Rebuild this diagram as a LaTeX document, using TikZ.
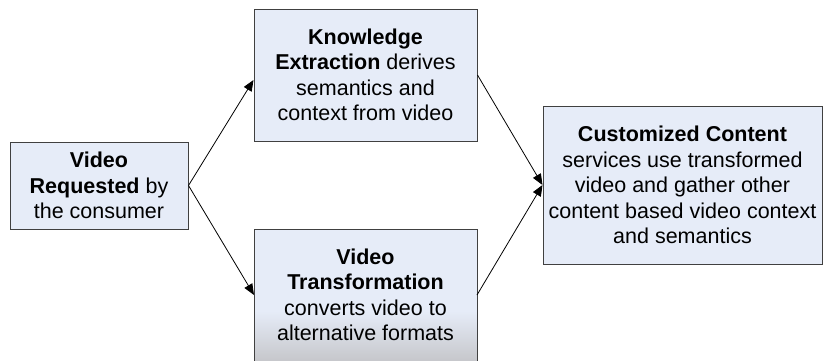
\documentclass[tikz,border=0pt]{standalone}
\usepackage{fontspec}
\setmainfont{Liberation Sans}
\usetikzlibrary{arrows.meta}
\definecolor{boxfill}{RGB}{230,236,248}
\definecolor{boxline}{RGB}{64,64,64}
\definecolor{boxgray}{RGB}{198,199,203}
\begin{document}
\begin{tikzpicture}[x=1pt,y=-1pt,
  stepbox/.style={draw=boxline, line width=1pt, fill=boxfill, rectangle, inner sep=0pt,
    align=center, font=\fontsize{21.5}{25.5}\selectfont},
  conn/.style={-{Triangle[length=11pt,width=9pt]}, line width=0.8pt, black}]
\useasboundingbox (0,0) rectangle (823,360);
\clip (0,0) rectangle (823,360);
\node[stepbox, minimum width=178pt, minimum height=87pt] (req) at (99,185.5)
  {\textbf{Video}\\\textbf{Requested} by\\the consumer};
\node[stepbox, minimum width=223pt, minimum height=132pt] (ke) at (365.5,75)
  {\textbf{Knowledge}\\\textbf{Extraction} derives\\semantics and\\context from video};
\node[stepbox, draw=none, outer sep=0pt, minimum width=223pt, minimum height=132pt] (vt) at (365.5,295) {};
\shade[top color=boxfill, bottom color=boxgray]
  ([yshift=50pt]vt.south west) rectangle (vt.south east);
\draw[boxline, line width=1pt] (vt.south west) rectangle (vt.north east);
\node[align=center, inner sep=0pt, font=\fontsize{21.5}{25.5}\selectfont] (vtt) at (vt.center)
  {\textbf{Video}\\\textbf{Transformation}\\converts video to\\alternative formats};
\node[stepbox, minimum width=279pt, minimum height=158pt] (cc) at (682.5,185)
  {\textbf{Customized Content}\\services use transformed\\video and gather other\\content based video context\\and semantics};
\draw[conn] (req.east) -- ([yshift=-5pt]ke.west);
\draw[conn] (req.east) -- (vt.west);
\draw[conn] (ke.east) -- (cc.west);
\draw[conn] (vt.east) -- (cc.west);
\end{tikzpicture}
\end{document}
